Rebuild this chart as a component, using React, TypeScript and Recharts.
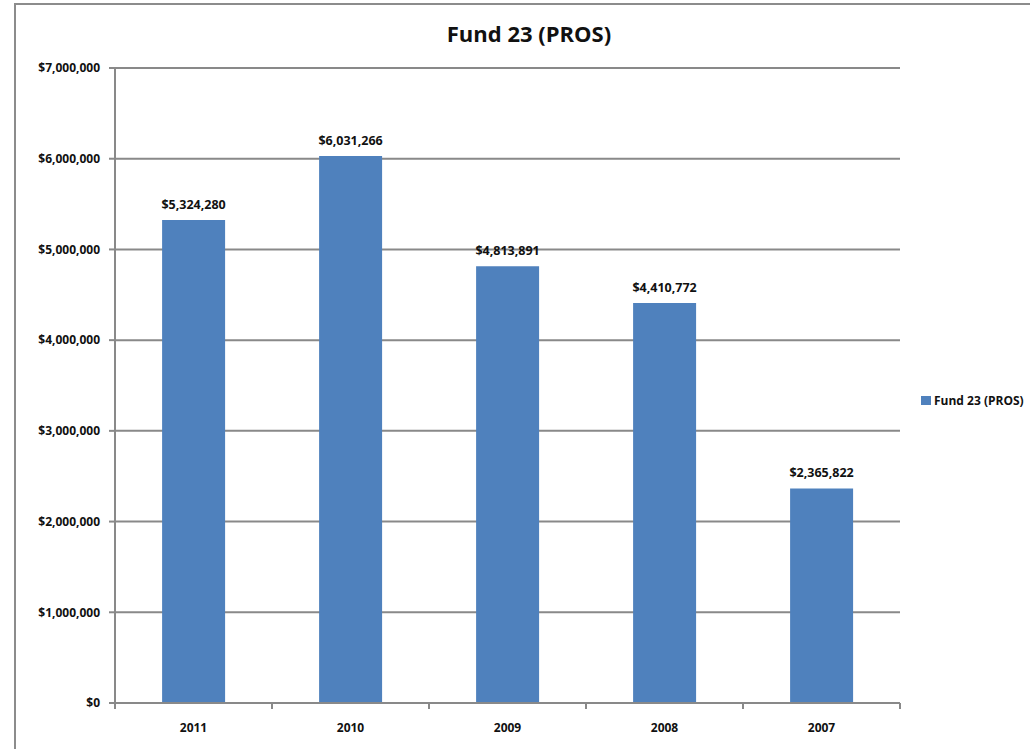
import { BarChart, Bar, XAxis, YAxis, CartesianGrid, LabelList } from "recharts";

const years = ["2011", "2010", "2009", "2008", "2007"];
const amounts = [5324280, 6031266, 4813891, 4410772, 2365822];
const yTicks = [0, 1000000, 2000000, 3000000, 4000000, 5000000, 6000000, 7000000];
const seriesName = "Fund 23 (PROS)";

const data = years.map((year, i) => ({ year, value: amounts[i] }));

const FONT = "'Open Sans', 'Liberation Sans', sans-serif";
const GRAY = "#898989";
const BLUE = "#4F81BD";

const PLOT_LEFT = 115;
const PLOT_RIGHT = 900;
const BAND = (PLOT_RIGHT - PLOT_LEFT) / years.length;

const money = (v: number) => "$" + v.toLocaleString("en-US");

// category ticks sit on the band edges, labels in the middle
function YearTick(props: any) {
  const { x, y, payload, index } = props;
  const left = x - BAND / 2;
  const top = y - 8;
  return (
    <g>
      <line x1={left} y1={top} x2={left} y2={top + 6} stroke={GRAY} strokeWidth={2} />
      {index === years.length - 1 && (
        <line x1={x + BAND / 2} y1={top} x2={x + BAND / 2} y2={top + 6} stroke={GRAY} strokeWidth={2} />
      )}
      <text x={x} y={top + 29} textAnchor="middle" fontSize={12} fontWeight={700} fill="#111" fontFamily={FONT}>
        {payload.value}
      </text>
    </g>
  );
}

export default function App() {
  return (
    <div style={{ position: "absolute", left: 0, top: 0, width: 1030, height: 749, background: "#fff", overflow: "hidden" }}>
      <div style={{ position: "absolute", left: 14, top: 3, width: 1040, height: 760, border: "2px solid #8c8c8c", boxSizing: "border-box" }} />
      <div style={{ position: "absolute", left: 0, width: 1058, top: 18, textAlign: "center", fontFamily: FONT, fontWeight: 700, fontSize: 22, color: "#111" }}>
        {seriesName}
      </div>
      <div style={{ position: "absolute", left: 0, top: 0 }}>
        <BarChart width={1030} height={749} data={data} margin={{ top: 68, right: 1030 - PLOT_RIGHT, bottom: 0, left: 0 }} barCategoryGap="30%">
          <CartesianGrid vertical={false} stroke={GRAY} strokeWidth={2} />
          <XAxis dataKey="year" height={46} stroke={GRAY} strokeWidth={2} tickLine={false} tick={<YearTick />} interval={0} />
          <YAxis
            width={PLOT_LEFT}
            domain={[0, 7000000]}
            ticks={yTicks}
            tickFormatter={money}
            stroke={GRAY}
            strokeWidth={2}
            tickSize={6}
            tickMargin={9}
            tick={{ fontSize: 12, fontWeight: 700, fill: "#111", fontFamily: FONT }}
          />
          <Bar dataKey="value" name={seriesName} fill={BLUE} isAnimationActive={false}>
            <LabelList dataKey="value" position="top" offset={11} formatter={(v: any) => money(Number(v))} style={{ fontSize: 12.5, fontWeight: 700, fill: "#111", fontFamily: FONT }} />
          </Bar>
        </BarChart>
      </div>
      <div style={{ position: "absolute", left: 921, top: 392, display: "flex", alignItems: "center", gap: 3, fontFamily: FONT, fontWeight: 700, fontSize: 12, color: "#111", whiteSpace: "nowrap" }}>
        <span style={{ display: "inline-block", width: 10, height: 9, background: BLUE }} />
        <span>{seriesName}</span>
      </div>
    </div>
  );
}
